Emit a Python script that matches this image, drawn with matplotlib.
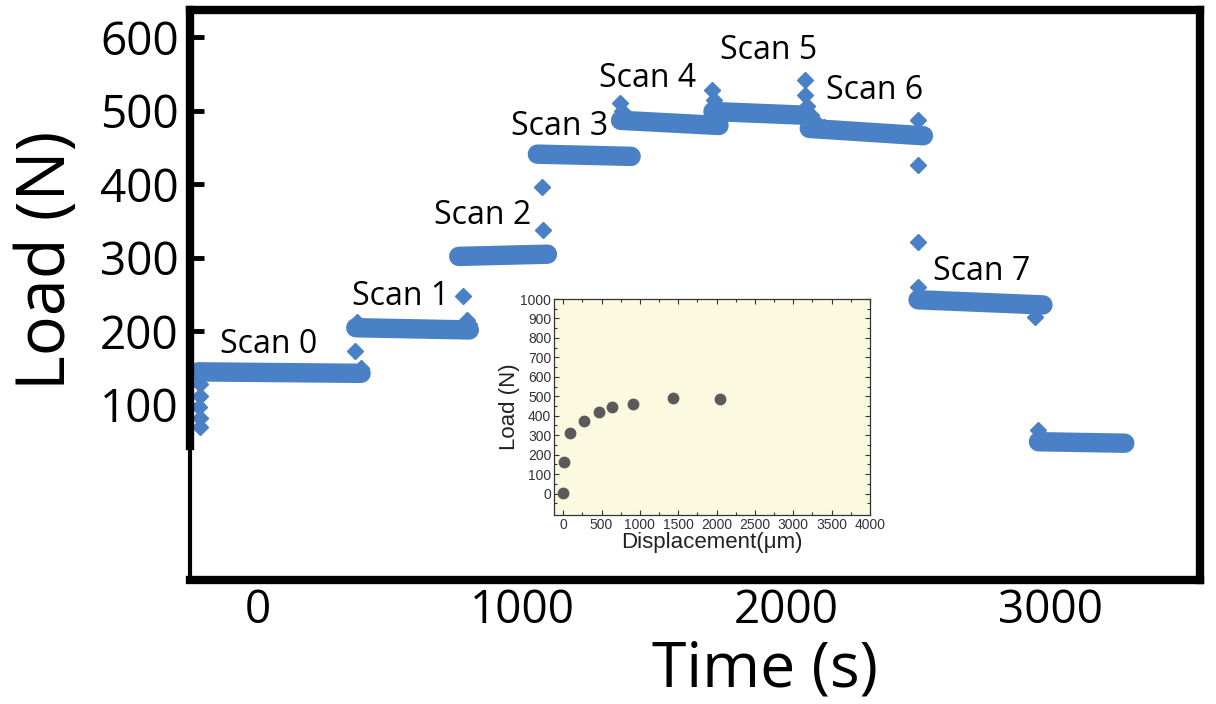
import matplotlib
matplotlib.use("Agg")
import matplotlib.pyplot as plt

# main chart: load plateaus for each scan (time in s, load in N)
plateau_t0 = [-227, 370, 760, 1058, 1373, 1723, 2088, 2500, 2956]
plateau_t1 = [390, 800, 1096, 1413, 1746, 2068, 2520, 2973, 3283]
plateau_y0 = [145, 205, 302, 441, 487, 499, 476, 243, 50]
plateau_y1 = [143, 202, 305, 438, 480, 494, 466, 236, 48]

# isolated readings between and at the edges of plateaus
spike_t = [-222, -220, -225, -222, -220, 376, 367, 390, 778, 790, 1078, 1075,
           1370, 1378, 1396, 1718, 1726, 1738, 2071, 2071, 2078, 2096, 2118,
           2143, 2498, 2498, 2498, 2498, 2503, 2943, 2953, 800]
spike_y = [128, 112, 97, 82, 70, 213, 173, 150, 248, 215, 338, 396,
           510, 500, 492, 528, 515, 505, 542, 521, 506, 494, 484,
           478, 487, 426, 321, 260, 250, 220, 66, 210]

scan_labels = ["Scan 0", "Scan 1", "Scan 2", "Scan 3",
               "Scan 4", "Scan 5", "Scan 6", "Scan 7"]
label_t = [38, 538, 852, 1143, 1476, 1935, 2335, 2741]
label_y = [182, 248, 357, 478, 544, 582, 528, 282]

y_ticks = [100, 200, 300, 400, 500, 600]
x_ticks = [0, 1000, 2000, 3000]

# inset: load vs displacement
disp = [0, 15, 90, 265, 465, 640, 915, 1425, 2045]
disp_load = [3, 162, 309, 373, 419, 444, 460, 490, 487]

blue = "#4a80c6"
font = "Open Sans"

fig = plt.figure(figsize=(12.16, 7.04), dpi=100)
ax = fig.add_axes([190 / 1216, 1 - 580 / 704, 1010 / 1216, 570 / 704])

for t0, t1, y0, y1 in zip(plateau_t0, plateau_t1, plateau_y0, plateau_y1):
    ax.plot([t0, t1], [y0, y1], color=blue, lw=14, solid_capstyle="round", zorder=3)
ax.plot(spike_t, spike_y, ls="none", marker="D", ms=8.5, color=blue,
        mec=blue, zorder=3)

for txt, t, y in zip(scan_labels, label_t, label_y):
    ax.text(t, y, txt, fontsize=23, family=font, ha="center", va="center")

ax.set_xlim(-258, 3568)
ax.set_ylim(-138, 637)
ax.set_yticks(y_ticks)
ax.set_xticks(x_ticks)
ax.tick_params(axis="y", direction="in", length=10, width=3.5, labelsize=33, pad=8)
ax.tick_params(axis="x", length=0, labelsize=33, pad=6)
for lab in ax.get_xticklabels() + ax.get_yticklabels():
    lab.set_family(font)
for side in ["top", "right", "bottom"]:
    ax.spines[side].set_linewidth(6)
ax.spines["left"].set_linewidth(3)
ax.plot([0, 0], [44, 637], transform=ax.get_yaxis_transform(), color="black",
        lw=6, clip_on=False, zorder=5)

fig.text(47 / 1216, 1 - 260 / 704, "Load (N)", rotation=90, fontsize=48,
         family=font, ha="center", va="center")
fig.text(765 / 1216, 1 - 687 / 704, "Time (s)", fontsize=45,
         family=font, ha="center", va="baseline")

# inset
ins = fig.add_axes([554 / 1216, 1 - 515 / 704, 316 / 1216, 216 / 704])
ins.set_facecolor("#fcf9e1")
ins.plot(disp, disp_load, ls="none", marker="o", ms=7.5, color="#5a5a5a")
ins.set_xlim(-120, 4000)
ins.set_ylim(-110, 1000)
ins.set_xticks(range(0, 4001, 500))
ins.set_yticks(range(0, 1001, 100))
ins.set_xticks(range(250, 4000, 500), minor=True)
ins.set_yticks(range(-50, 1000, 100), minor=True)
ins.tick_params(which="both", direction="in", top=True, right=True,
                labelsize=10, colors="#333333", width=0.8, pad=2)
ins.tick_params(which="major", length=3.5)
ins.tick_params(which="minor", length=2)
for s in ins.spines.values():
    s.set_linewidth(0.9)
    s.set_color("#333333")
ins.set_xlabel("Displacement(\u03bcm)", fontsize=16, color="#222222",
               family="Liberation Sans", labelpad=0)
ins.set_ylabel("Load (N)", fontsize=16, color="#222222",
               family="Liberation Sans", labelpad=0)
for lab in ins.get_xticklabels() + ins.get_yticklabels():
    lab.set_family("Liberation Sans")

fig.savefig("out.png", dpi=100)
